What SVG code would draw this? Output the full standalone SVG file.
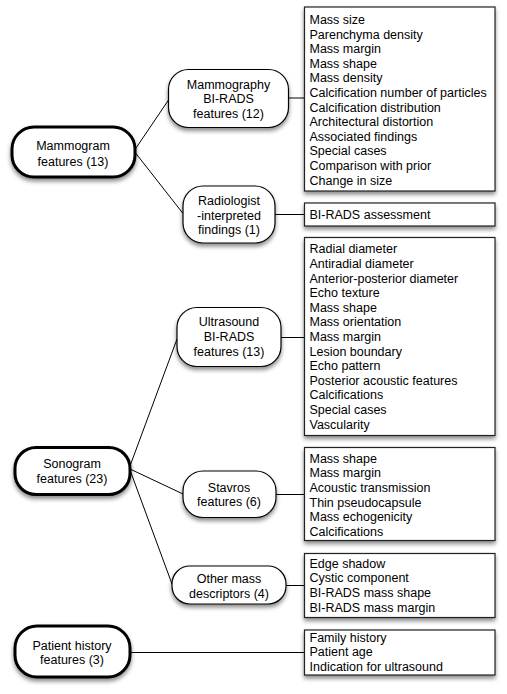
<svg xmlns="http://www.w3.org/2000/svg" width="507" height="694" viewBox="0 0 507 694">
<style>
text{font-family:"Liberation Sans",Arial,Helvetica,sans-serif;font-size:12.5px;fill:#000}
.c{text-anchor:middle}
.n1{fill:#fff;stroke:#000;stroke-width:3}
.n2{fill:#fff;stroke:#000;stroke-width:1.2}
.box{fill:#fff;stroke:#222;stroke-width:1.2}
.sh{filter:url(#ds)}
#connectors line{stroke:#000;stroke-width:1}
</style>
<defs>
<filter id="ds" x="-20%" y="-20%" width="140%" height="150%">
<feDropShadow dx="0" dy="3" stdDeviation="2" flood-color="#000" flood-opacity="0.45"/>
</filter>
</defs>
<rect width="507" height="694" fill="#fff"/>
<g id="connectors">
<line x1="134" y1="151" x2="168.5" y2="100"/>
<line x1="134" y1="151" x2="183" y2="213.5"/>
<line x1="288" y1="98" x2="304" y2="98"/>
<line x1="275" y1="214.5" x2="304" y2="214.5"/>
<line x1="130" y1="466" x2="177" y2="339"/>
<line x1="130" y1="469" x2="183" y2="494"/>
<line x1="130" y1="470" x2="172" y2="584"/>
<line x1="281" y1="337.5" x2="304" y2="337.5"/>
<line x1="276" y1="494.5" x2="304" y2="494.5"/>
<line x1="286" y1="585.5" x2="304" y2="585.5"/>
<line x1="130" y1="652.5" x2="304" y2="652.5"/>
</g>
<g id="mammogram">
<rect class="n1 sh" x="12" y="127" width="123" height="50" rx="22"/>
<text class="c" x="73" y="150">Mammogram</text>
<text class="c" x="73" y="165.5">features (13)</text>
</g>
<g id="mammo-birads">
<rect class="n2 sh" x="168.5" y="69.5" width="120" height="58" rx="20"/>
<text class="c" x="228.5" y="88.5">Mammography</text>
<text class="c" x="228.5" y="103">BI-RADS</text>
<text class="c" x="228.5" y="117.5">features (12)</text>
</g>
<g id="radiologist">
<rect class="n2 sh" x="183" y="186" width="92" height="57" rx="20"/>
<text class="c" x="229" y="205">Radiologist</text>
<text class="c" x="229" y="219.5">-interpreted</text>
<text class="c" x="229" y="234">findings (1)</text>
</g>
<g id="sonogram">
<rect class="n1 sh" x="15" y="447.5" width="115" height="47" rx="21"/>
<text class="c" x="72" y="467.5">Sonogram</text>
<text class="c" x="72" y="482.5">features (23)</text>
</g>
<g id="us-birads">
<rect class="n2 sh" x="177" y="307.5" width="104" height="59" rx="20"/>
<text class="c" x="229" y="326">Ultrasound</text>
<text class="c" x="229" y="341">BI-RADS</text>
<text class="c" x="229" y="355.5">features (13)</text>
</g>
<g id="stavros">
<rect class="n2 sh" x="183" y="471" width="93" height="46.5" rx="20"/>
<text class="c" x="229" y="491.5">Stavros</text>
<text class="c" x="229" y="505.5">features (6)</text>
</g>
<g id="other-mass">
<rect class="n2 sh" x="172" y="566" width="114" height="38" rx="18"/>
<text class="c" x="229" y="582.5">Other mass</text>
<text class="c" x="229" y="597.5">descriptors (4)</text>
</g>
<g id="patient">
<rect class="n1 sh" x="15" y="626" width="115" height="51" rx="22"/>
<text class="c" x="72" y="649.5">Patient history</text>
<text class="c" x="72" y="663.5">features (3)</text>
</g>
<g id="list-mammo">
<rect class="box sh" x="304.5" y="7" width="190.5" height="184"/>
<text x="309.5" y="24">Mass size</text>
<text x="309.5" y="38.6">Parenchyma density</text>
<text x="309.5" y="53.2">Mass margin</text>
<text x="309.5" y="67.8">Mass shape</text>
<text x="309.5" y="82.4">Mass density</text>
<text x="309.5" y="97">Calcification number of particles</text>
<text x="309.5" y="111.6">Calcification distribution</text>
<text x="309.5" y="126.2">Architectural distortion</text>
<text x="309.5" y="140.8">Associated findings</text>
<text x="309.5" y="155.4">Special cases</text>
<text x="309.5" y="170">Comparison with prior</text>
<text x="309.5" y="184.6">Change in size</text>
</g>
<g id="list-radiologist">
<rect class="box sh" x="304.5" y="203" width="190.5" height="23"/>
<text x="309.5" y="218.5">BI-RADS assessment</text>
</g>
<g id="list-us">
<rect class="box sh" x="304.5" y="237.5" width="190.5" height="198"/>
<text x="309.5" y="253.3">Radial diameter</text>
<text x="309.5" y="267.9">Antiradial diameter</text>
<text x="309.5" y="282.5">Anterior-posterior diameter</text>
<text x="309.5" y="297.1">Echo texture</text>
<text x="309.5" y="311.7">Mass shape</text>
<text x="309.5" y="326.3">Mass orientation</text>
<text x="309.5" y="340.9">Mass margin</text>
<text x="309.5" y="355.5">Lesion boundary</text>
<text x="309.5" y="370.1">Echo pattern</text>
<text x="309.5" y="384.7">Posterior acoustic features</text>
<text x="309.5" y="399.3">Calcifications</text>
<text x="309.5" y="413.9">Special cases</text>
<text x="309.5" y="428.5">Vascularity</text>
</g>
<g id="list-stavros">
<rect class="box sh" x="304.5" y="447.5" width="190.5" height="93"/>
<text x="309.5" y="462.7">Mass shape</text>
<text x="309.5" y="477.3">Mass margin</text>
<text x="309.5" y="491.9">Acoustic transmission</text>
<text x="309.5" y="506.5">Thin pseudocapsule</text>
<text x="309.5" y="521.1">Mass echogenicity</text>
<text x="309.5" y="535.7">Calcifications</text>
</g>
<g id="list-other">
<rect class="box sh" x="304.5" y="553.5" width="190.5" height="64"/>
<text x="309.5" y="567.7">Edge shadow</text>
<text x="309.5" y="582.3">Cystic component</text>
<text x="309.5" y="596.9">BI-RADS mass shape</text>
<text x="309.5" y="611.5">BI-RADS mass margin</text>
</g>
<g id="list-patient">
<rect class="box sh" x="304.5" y="630" width="190.5" height="45"/>
<text x="309.5" y="641.7">Family history</text>
<text x="309.5" y="656.3">Patient age</text>
<text x="309.5" y="670.9">Indication for ultrasound</text>
</g>
</svg>
